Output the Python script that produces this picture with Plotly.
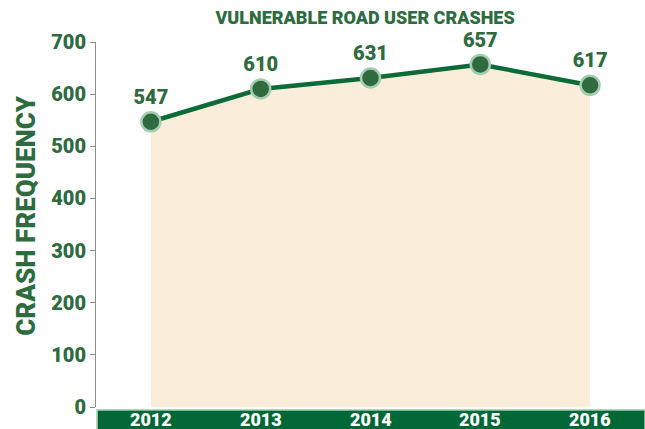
import plotly.graph_objects as go

years = ["2012", "2013", "2014", "2015", "2016"]
crashes = [547, 610, 631, 657, 617]
y_ticks = [0, 100, 200, 300, 400, 500, 600, 700]

GREEN_TXT = "#2E6B3E"
LINE = "#0C6B37"
BAND = "#006837"
FILL = "#FAEEDB"
FONT = "Roboto"

fig = go.Figure()
fig.add_trace(go.Scatter(
    x=years, y=crashes, mode="lines+markers+text",
    fill="tozeroy", fillcolor=FILL,
    line=dict(color=LINE, width=4.5),
    marker=dict(size=19, color="#2F6B3F", line=dict(color="#A3CDAE", width=2.5)),
    text=[str(v) for v in crashes], textposition="top center",
    textfont=dict(family=FONT, size=20, color=GREEN_TXT, weight=900),
    hoverinfo="skip", cliponaxis=False,
))

fig.add_shape(type="rect", xref="paper", yref="paper", x0=0.002, x1=1, y0=-0.062, y1=-0.008,
              fillcolor=BAND, line=dict(color="#9FC7A8", width=1.5), layer="below")

for i, yr in enumerate(years):
    fig.add_annotation(x=i, xref="x", y=-0.033, yref="paper", yanchor="middle",
                       text=yr, showarrow=False, borderpad=0,
                       font=dict(family=FONT, size=18, color="white", weight=900))

fig.add_annotation(x=-0.128, xref="paper", y=0.526, yref="paper", xanchor="center", yanchor="middle",
                   text="CRASH FREQUENCY", textangle=-90, showarrow=False,
                   font=dict(family=FONT, size=26, color=GREEN_TXT, weight=900))

fig.update_layout(
    width=645, height=429,
    margin=dict(l=96, r=0, t=42, b=22),
    paper_bgcolor="white", plot_bgcolor="white",
    showlegend=False,
    title=dict(text="VULNERABLE ROAD USER CRASHES", x=0.566, xanchor="center", y=0.958, yanchor="middle",
               font=dict(family=FONT, size=18, color=GREEN_TXT, weight=900)),
    xaxis=dict(type="category", range=[-0.5, 4.5], showgrid=False, zeroline=False, showline=False,
               ticks="", showticklabels=False, automargin=False),
    yaxis=dict(range=[0, 700], tickvals=y_ticks, showgrid=False, zeroline=False,
               showline=True, linecolor="#8C8C8C", linewidth=1, automargin=False,
               ticks="outside", ticklen=5, tickcolor="#8C8C8C",
               tickfont=dict(family=FONT, size=20, color=GREEN_TXT, weight=900)),
)

fig.write_html("out.html", config={"displayModeBar": False},
               post_script="document.body.style.margin='0';document.body.style.overflow='hidden';")
